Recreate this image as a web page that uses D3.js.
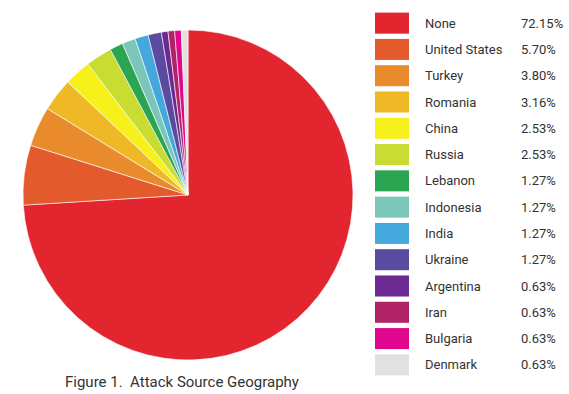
<!DOCTYPE html>
<html>
<head>
<meta charset="utf-8">
<script src="https://cdn.jsdelivr.net/npm/d3@7"></script>
<style>
  body { margin: 0; background: #fff; }
  text { font-family: Roboto, "Liberation Sans", sans-serif; }
</style>
</head>
<body>
<div id="container"></div>
<script>
// data
let countries = ["None", "United States", "Turkey", "Romania", "China", "Russia", "Lebanon",
                 "Indonesia", "India", "Ukraine", "Argentina", "Iran", "Bulgaria", "Denmark"];
let shares = [72.15, 5.70, 3.80, 3.16, 2.53, 2.53, 1.27, 1.27, 1.27, 1.27, 0.63, 0.63, 0.63, 0.63];
let sliceColors = ["#e2252f", "#e35a2c", "#e98b2c", "#efb826", "#f6f11b", "#c8dc32", "#2ba552",
                   "#7ac7ba", "#45a8dc", "#5a4ba0", "#6b2a91", "#b02466", "#e0078e", "#e1e1e1"];

let w = 569;
let h = 394;

let viz = d3.select("#container")
          .append("svg")
          .attr("width", w)
          .attr("height", h)
;

// pie
let cx = 188, cy = 195, r = 165;
let pie = d3.pie().sort(null).value(d=>d.share);
let arc = d3.arc().innerRadius(0).outerRadius(r);

let rows = countries.map((c, i)=>{
  return {country: c, share: shares[i], color: sliceColors[i]};
});

let pieGroup = viz.append("g").attr("transform", "translate("+cx+","+cy+")");
pieGroup.selectAll(".slice").data(pie(rows)).enter()
        .append("path")
        .attr("class", "slice")
        .attr("d", arc)
        .attr("fill", d=>d.data.color)
        .attr("stroke", "white")
        .attr("stroke-width", 0.6)
;

// legend
let legendY = d3.scaleBand().domain(countries).range([10, 378]).paddingInner(0.2).paddingOuter(0.1);

let legend = viz.append("g").attr("class", "legend");
let items = legend.selectAll(".item").data(rows).enter()
        .append("g")
        .attr("class", "item")
        .attr("transform", d=>"translate(0,"+legendY(d.country)+")")
;
items.append("rect")
        .attr("x", 375)
        .attr("y", 0)
        .attr("width", 34)
        .attr("height", legendY.bandwidth())
        .attr("fill", d=>d.color)
;
items.append("text")
        .attr("x", 425)
        .attr("y", legendY.bandwidth()/2)
        .attr("dy", "0.35em")
        .attr("font-size", 13)
        .attr("fill", "#333")
        .text(d=>d.country)
;
items.append("text")
        .attr("x", 521)
        .attr("y", legendY.bandwidth()/2)
        .attr("dy", "0.35em")
        .attr("font-size", 13)
        .attr("fill", "#333")
        .text(d=>d.share.toFixed(2)+"%")
;

// caption
viz.append("text")
        .attr("x", 65)
        .attr("y", 387)
        .attr("font-size", 15)
        .attr("fill", "#333")
        .attr("xml:space", "preserve")
        .text("Figure 1.  Attack Source Geography")
;
</script>
</body>
</html>
